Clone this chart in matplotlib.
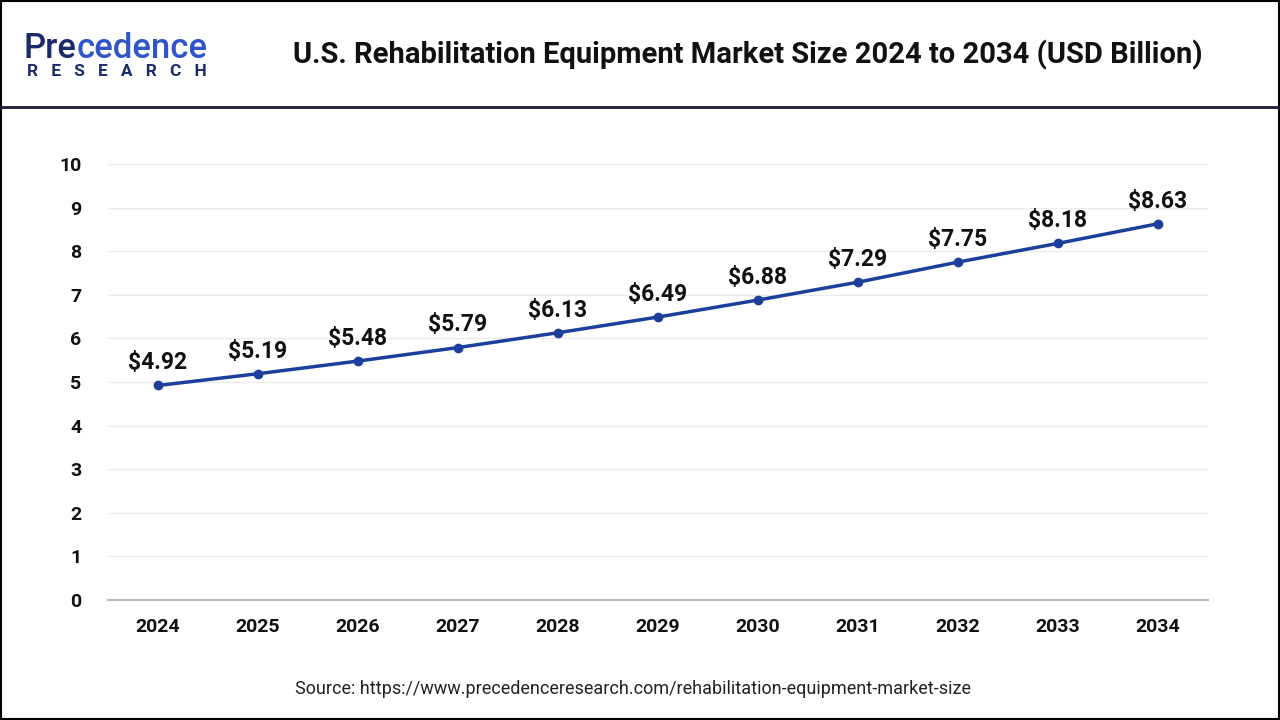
import matplotlib
matplotlib.use("Agg")
import matplotlib.pyplot as plt
from matplotlib.lines import Line2D

years = ["2024", "2025", "2026", "2027", "2028", "2029", "2030", "2031", "2032", "2033", "2034"]
values = [4.92, 5.19, 5.48, 5.79, 6.13, 6.49, 6.88, 7.29, 7.75, 8.18, 8.63]
y_ticks = [0, 1, 2, 3, 4, 5, 6, 7, 8, 9, 10]

plt.rcParams['font.family'] = ['Roboto', 'DejaVu Sans']

fig = plt.figure(figsize=(12.8, 7.2), dpi=100)
fig.patch.set_facecolor('white')

ax = fig.add_axes([108/1280, 1-600/720, 1100/1280, 436/720])
x = list(range(len(years)))
ax.plot(x, values, color='#1c3f9c', lw=2.5, marker='o', ms=6, zorder=3)
for xi, v in zip(x, values):
    ax.annotate(f"${v:.2f}", (xi, v), xytext=(0, 8), textcoords='offset points',
                ha='center', va='bottom', fontsize=16.5, fontweight='bold', color='#111111')

ax.set_xlim(-0.5, len(years) - 0.5)
ax.set_ylim(0, 10)
ax.set_yticks(y_ticks)
ax.set_xticks(x)
ax.set_xticklabels(years)
ax.tick_params(axis='both', length=0, labelsize=14, colors='#111111')
ax.tick_params(axis='x', pad=13)
ax.tick_params(axis='y', pad=19)
for lab in ax.get_xticklabels() + ax.get_yticklabels():
    lab.set_fontweight('bold')
ax.grid(axis='y', color='#ebebeb', lw=1)
ax.set_axisbelow(True)
for s in ['top', 'right', 'left']:
    ax.spines[s].set_visible(False)
ax.spines['bottom'].set_color('#bbbbbb')
ax.spines['bottom'].set_linewidth(1.5)

# header separator & border
fig.add_artist(Line2D([0, 1], [1-107/720, 1-107/720], color='#1a1a3a', lw=2, transform=fig.transFigure))
fig.add_artist(plt.Rectangle((0.0008, 0.001), 0.9984, 0.998, fill=False, ec='black', lw=1.5, transform=fig.transFigure))

# title
fig.text(748/1280, 1-55/720, "U.S. Rehabilitation Equipment Market Size 2024 to 2034 (USD Billion)",
         ha='center', va='center', fontsize=21, fontweight='bold', color='#111111')

# logo
renderer = fig.canvas.get_renderer()
t1 = fig.text(24/1280, 1-47/720, "Pre", ha='left', va='baseline', fontsize=25,
              color='#1b2a6b', fontweight='medium')
bb = t1.get_window_extent(renderer=renderer)
fig.text(bb.x1/1280, 1-47/720, "cedence", ha='left', va='baseline', fontsize=25,
         color='#2f55c8', fontweight='medium')
t1.set_y(1-58/720)
fig.texts[-1].set_y(1-58/720)
fig.text(27/1280, 1-72/720, "R   E   S   E   A   R   C   H", ha='left', va='center', fontsize=12.5,
         color='#1b2a6b', fontweight='bold')

# source
fig.text(633/1280, 1-689/720, "Source: https://www.precedenceresearch.com/rehabilitation-equipment-market-size",
         ha='center', va='center', fontsize=13, color='#222222')

fig.savefig("out.png", dpi=100, facecolor='white')
